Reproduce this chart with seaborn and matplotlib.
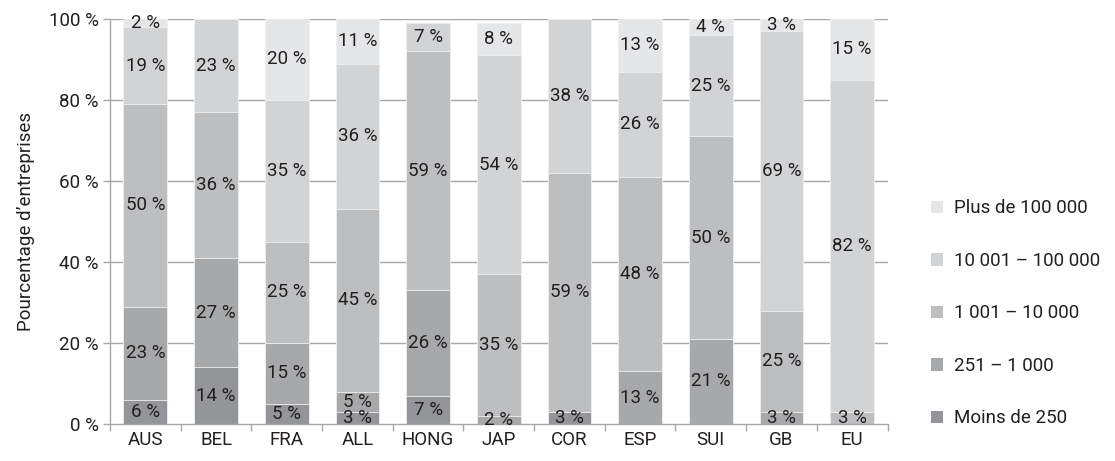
import numpy as np
import pandas as pd
import matplotlib
matplotlib.use("Agg")
import matplotlib.pyplot as plt
import seaborn as sns
from matplotlib.patches import Patch
from matplotlib.ticker import FixedLocator

categories = ["AUS", "BEL", "FRA", "ALL", "HONG", "JAP", "COR", "ESP", "SUI", "GB", "EU"]
series_names = ["Moins de 250", "251 – 1 000", "1 001 – 10 000", "10 001 – 100 000", "Plus de 100 000"]
moins_250 = [6, 14, 5, 3, 7, 0, 3, 0, 0, 0, 0]
s251_1000 = [23, 27, 15, 5, 26, 2, 0, 13, 21, 3, 0]
s1001_10000 = [50, 36, 25, 45, 59, 35, 59, 48, 50, 25, 3]
s10001_100000 = [19, 23, 35, 36, 7, 54, 38, 26, 25, 69, 82]
plus_100000 = [2, 0, 20, 11, 0, 8, 0, 13, 4, 3, 15]
colors = ["#939598", "#a7a8aa", "#bdbec0", "#d2d3d5", "#e5e6e8"]
yticks = [0, 20, 40, 60, 80, 100]

sns.set_theme(style="white")
plt.rcParams["font.family"] = ["Roboto", "DejaVu Sans"]
text_color = "#231f20"
grid_color = "#a8a8a8"
fs = 13.5

series = [moins_250, s251_1000, s1001_10000, s10001_100000, plus_100000]
data = np.array(series, dtype=float)
cum = np.cumsum(data, axis=0)

fig = plt.figure(figsize=(11.15, 4.61), dpi=100)
ax = fig.add_axes([0.0987, 0.0803, 0.6973, 0.8785])

for t in yticks[1:]:
    ax.axhline(t, color=grid_color, lw=1.0, zorder=0)

for i in range(len(series) - 1, -1, -1):
    df = pd.DataFrame({"cat": categories, "val": cum[i]})
    sns.barplot(data=df, x="cat", y="val", color=colors[i], width=0.62,
                saturation=1, ax=ax, order=categories, zorder=2,
                edgecolor="#f0f0f0", linewidth=0.6)

for i in range(len(series)):
    for j, cat in enumerate(categories):
        v = data[i, j]
        if v <= 0:
            continue
        y = cum[i, j] - v / 2
        ax.text(j, y, f"{int(v)} %", ha="center", va="center",
                fontsize=fs, color=text_color, zorder=5)

ax.set_xlim(-0.5, len(categories) - 0.5)
ax.set_ylim(0, 100)
ax.set_yticks(yticks)
ax.set_yticklabels([f"{t} %" for t in yticks])
ax.set_xlabel("")
ax.set_ylabel("Pourcentage d’entreprises", fontsize=fs, color=text_color, labelpad=10)

for s in ["top", "right"]:
    ax.spines[s].set_visible(False)
for s in ["left", "bottom"]:
    ax.spines[s].set_color(grid_color)
    ax.spines[s].set_linewidth(1.0)

ax.tick_params(axis="y", which="major", length=5, width=1, color=grid_color,
               labelsize=fs, labelcolor=text_color, left=True, pad=3)
ax.tick_params(axis="x", which="major", length=0, labelsize=fs,
               labelcolor=text_color, pad=5)
ax.xaxis.set_minor_locator(FixedLocator(np.arange(-0.5, len(categories) + 0.5, 1.0)))
ax.tick_params(axis="x", which="minor", length=5, width=1, color=grid_color, bottom=True)

handles = [Patch(facecolor=colors[i], edgecolor="none", label=series_names[i])
           for i in range(len(series) - 1, -1, -1)]
leg = fig.legend(handles=handles, loc="center left", bbox_to_anchor=(0.835, 0.32),
                 frameon=False, fontsize=fs, labelspacing=1.84,
                 handlelength=0.65, handleheight=0.65, handletextpad=0.6,
                 borderpad=0, borderaxespad=0)
for t in leg.get_texts():
    t.set_color(text_color)

fig.savefig("out.png", dpi=100)
